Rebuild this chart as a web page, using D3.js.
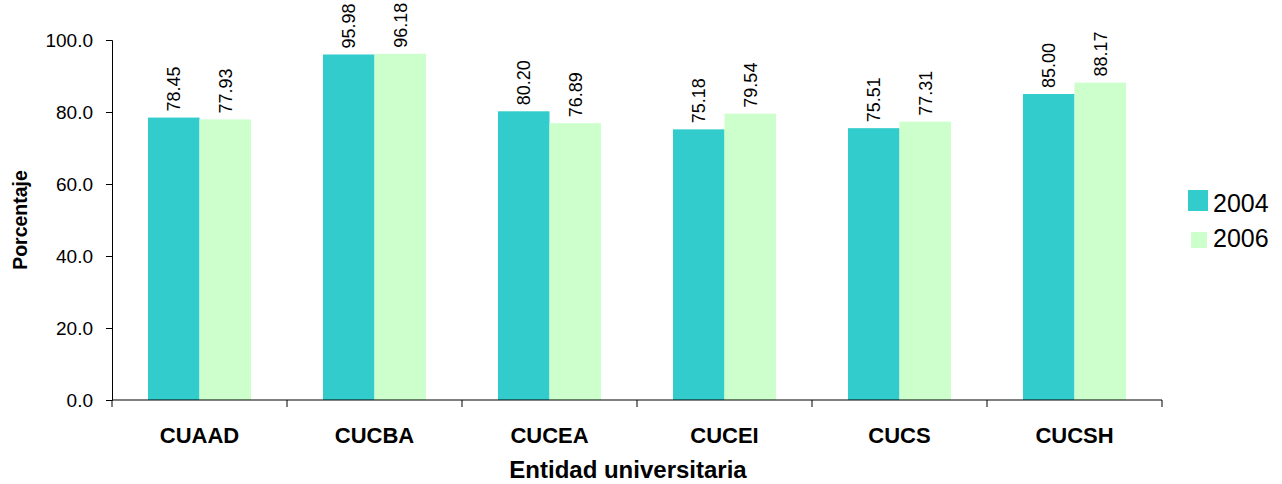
<!DOCTYPE html>
<html><head><meta charset="utf-8">
<script src="https://cdn.jsdelivr.net/npm/d3@7"></script>
<style>body{margin:0;background:#fff}svg{display:block;font-family:Arial,"Liberation Sans",sans-serif}</style>
</head><body>
<svg id="c" width="1282" height="484"></svg>
<script>
const categories = ["CUAAD","CUCBA","CUCEA","CUCEI","CUCS","CUCSH"];
const series = ["2004","2006"];
const values2004 = [78.45,95.98,80.20,75.18,75.51,85.00];
const values2006 = [77.93,96.18,76.89,79.54,77.31,88.17];
const yTicks = [0,20,40,60,80,100];
const colors = ["#33CCCC","#CCFFCC"];

const svg = d3.select("#c");
const L=112,R=1162,T=40,B=400;
const x = d3.scaleBand().domain(categories).range([L,R]);
const y = d3.scaleLinear().domain([0,100]).range([B,T]);
const inner = d3.scaleBand().domain(series).range([0,103]);
const data = [values2004, values2006];

categories.forEach((c,i)=>{
  series.forEach((s,j)=>{
    const v = data[j][i];
    const bx = x(c) + (x.bandwidth()-103)/2 + inner(s);
    svg.append("rect").attr("x",bx).attr("y",y(v)).attr("width",inner.bandwidth()).attr("height",B-y(v)).attr("fill",colors[j]);
    const cx = bx + inner.bandwidth()/2;
    svg.append("text").attr("transform",`translate(${cx+6.5},${y(v)-6}) rotate(-90)`)
      .attr("font-size",18).attr("fill","#000").text(v.toFixed(2));
  });
});

// y axis
const ya = svg.append("g").attr("transform",`translate(${L},0)`)
  .call(d3.axisLeft(y).tickValues(yTicks).tickFormat(d3.format(".1f")).tickSizeOuter(0).tickSize(6).tickPadding(13));
ya.select(".domain").attr("stroke","#000");
ya.selectAll("line").attr("stroke","#000");
ya.selectAll("text").attr("font-size",19).attr("font-family","Arial,'Liberation Sans',sans-serif").attr("fill","#000");

// x axis
const xa = svg.append("g").attr("transform",`translate(0,${B})`);
xa.append("line").attr("x1",L).attr("x2",R).attr("y1",0).attr("y2",0).attr("stroke","#000");
const bounds = categories.map(c=>x(c)).concat([R]);
xa.selectAll("line.t").data(bounds).enter().append("line").attr("class","t")
  .attr("x1",d=>d).attr("x2",d=>d).attr("y1",0).attr("y2",7).attr("stroke","#000");
xa.selectAll("text").data(categories).enter().append("text")
  .attr("x",d=>x(d)+x.bandwidth()/2).attr("y",43).attr("text-anchor","middle")
  .attr("font-size",22).attr("font-weight","bold").text(d=>d);

svg.append("text").attr("x",628).attr("y",478).attr("text-anchor","middle")
  .attr("font-size",24).attr("font-weight","bold").text("Entidad universitaria");
svg.append("text").attr("transform","translate(27,220) rotate(-90)").attr("text-anchor","middle")
  .attr("font-size",19.5).attr("font-weight","bold").text("Porcentaje");

// legend
const legBox = [[1188,190,20,21],[1191,232,16,16]];
const legBase = [212,247];
series.forEach((s,j)=>{
  const b = legBox[j];
  svg.append("rect").attr("x",b[0]).attr("y",b[1]).attr("width",b[2]).attr("height",b[3]).attr("fill",colors[j]);
  svg.append("text").attr("x",1213).attr("y",legBase[j]).attr("font-size",25).text(s);
});
</script>
</body></html>
